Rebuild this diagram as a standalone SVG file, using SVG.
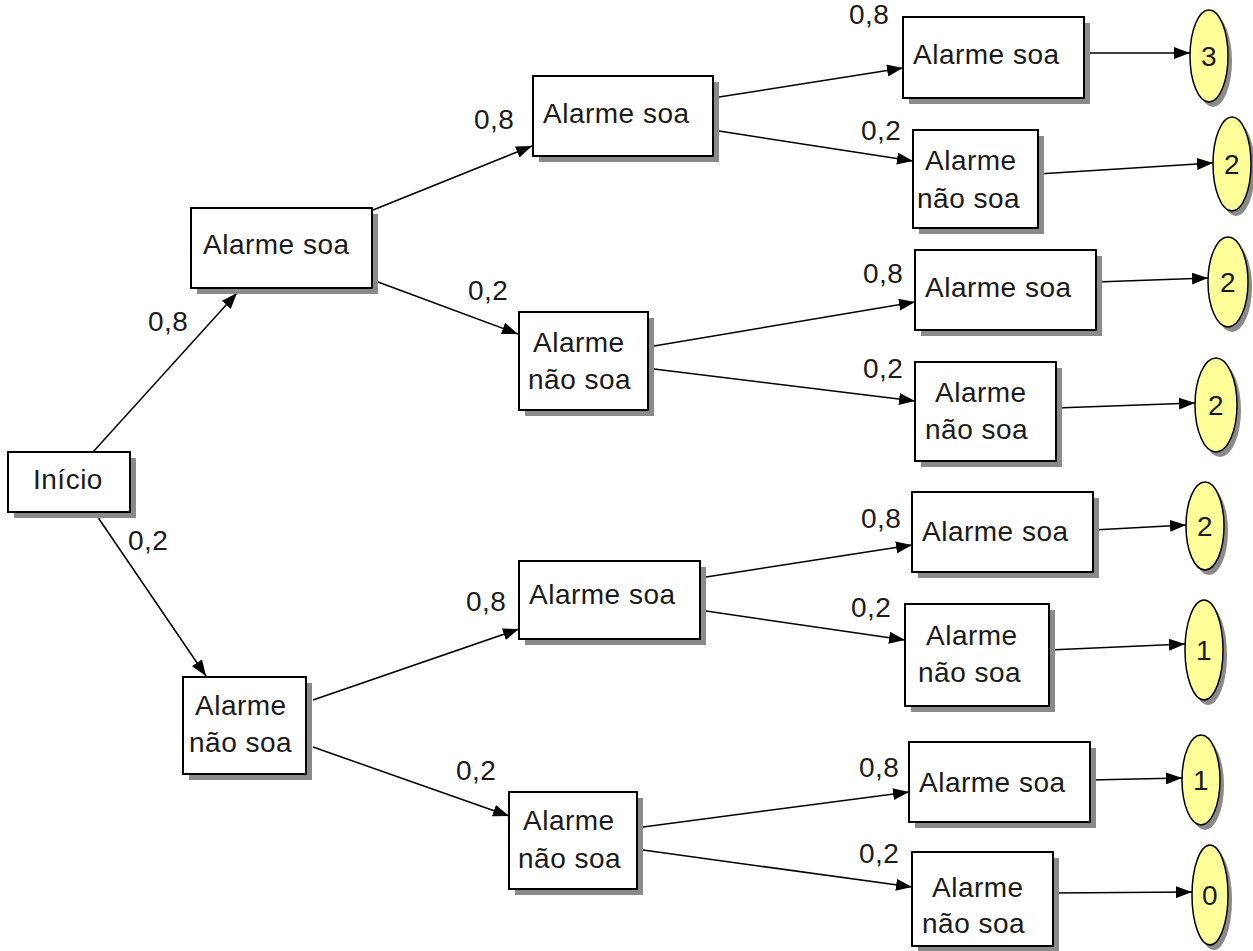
<svg xmlns="http://www.w3.org/2000/svg" width="1253" height="951" viewBox="0 0 1253 951">
<style>
.bx{fill:#fff;stroke:#000;stroke-width:2}
.sh{fill:#8a8a8a}
.el{fill:#ffff99;stroke:#000;stroke-width:1.5}
.t{font-family:"Liberation Sans",Arial,sans-serif;font-size:28px;fill:#1a1a1a;letter-spacing:0.5px}
.c{stroke:#000;stroke-width:1.5;fill:none;marker-end:url(#ah)}
</style>
<defs>
<marker id="ah" viewBox="0 0 16 12" refX="16" refY="6" markerWidth="16" markerHeight="12" markerUnits="userSpaceOnUse" orient="auto">
<path d="M0,0 L16,6 L0,12 Z" fill="#000"/>
</marker>
</defs>
<rect width="1253" height="951" fill="#fff"/>
<g id="connectors">
<line class="c" x1="93" y1="452" x2="237" y2="293"/>
<line class="c" x1="95" y1="513" x2="206" y2="676"/>
<line class="c" x1="373" y1="210" x2="532" y2="146"/>
<line class="c" x1="378" y1="282" x2="518" y2="334"/>
<line class="c" x1="313" y1="700" x2="519" y2="629"/>
<line class="c" x1="313" y1="747" x2="509" y2="816"/>
<line class="c" x1="719" y1="97" x2="903" y2="68"/>
<line class="c" x1="719" y1="131" x2="913" y2="161"/>
<line class="c" x1="654" y1="346" x2="915" y2="302"/>
<line class="c" x1="654" y1="369" x2="915" y2="401"/>
<line class="c" x1="706" y1="577" x2="912" y2="545"/>
<line class="c" x1="706" y1="611" x2="905" y2="640"/>
<line class="c" x1="643" y1="827" x2="909" y2="792"/>
<line class="c" x1="643" y1="850" x2="912" y2="887"/>
<line class="c" x1="1084" y1="53" x2="1190" y2="53"/>
<line class="c" x1="1038" y1="174" x2="1213" y2="163"/>
<line class="c" x1="1096" y1="282" x2="1208" y2="278"/>
<line class="c" x1="1056" y1="408" x2="1195" y2="403"/>
<line class="c" x1="1093" y1="530" x2="1186" y2="525"/>
<line class="c" x1="1049" y1="650" x2="1185" y2="644"/>
<line class="c" x1="1090" y1="780" x2="1182" y2="778"/>
<line class="c" x1="1053" y1="893" x2="1192" y2="892"/>
</g>
<g id="labels">
<text class="t" x="148" y="331">0,8</text>
<text class="t" x="128" y="550">0,2</text>
<text class="t" x="474" y="129">0,8</text>
<text class="t" x="468" y="300">0,2</text>
<text class="t" x="466" y="611">0,8</text>
<text class="t" x="456" y="780">0,2</text>
<text class="t" x="849" y="24">0,8</text>
<text class="t" x="861" y="140">0,2</text>
<text class="t" x="863" y="283">0,8</text>
<text class="t" x="863" y="378">0,2</text>
<text class="t" x="861" y="528">0,8</text>
<text class="t" x="851" y="617">0,2</text>
<text class="t" x="859" y="777">0,8</text>
<text class="t" x="859" y="863">0,2</text>
</g>
<g id="n-inicio"><rect class="sh" x="14" y="458" width="122" height="60"/><rect class="bx" x="8" y="452" width="122" height="60"/><text class="t" x="33" y="489">Início</text></g>
<g id="n-a1"><rect class="sh" x="197" y="214" width="181" height="80"/><rect class="bx" x="191" y="208" width="181" height="80"/><text class="t" x="203" y="254">Alarme soa</text></g>
<g id="n-b1"><rect class="sh" x="189" y="683" width="123" height="97"/><rect class="bx" x="183" y="677" width="123" height="97"/><text class="t" x="195" y="715">Alarme</text><text class="t" x="189" y="752">não soa</text></g>
<g id="n-a2"><rect class="sh" x="539" y="82" width="180" height="80"/><rect class="bx" x="533" y="76" width="180" height="80"/><text class="t" x="543" y="123">Alarme soa</text></g>
<g id="n-b2"><rect class="sh" x="525" y="318" width="129" height="98"/><rect class="bx" x="519" y="312" width="129" height="98"/><text class="t" x="533" y="352">Alarme</text><text class="t" x="528" y="389">não soa</text></g>
<g id="n-c2"><rect class="sh" x="525" y="567" width="181" height="78"/><rect class="bx" x="519" y="561" width="181" height="78"/><text class="t" x="529" y="604">Alarme soa</text></g>
<g id="n-d2"><rect class="sh" x="515" y="798" width="128" height="97"/><rect class="bx" x="509" y="792" width="128" height="97"/><text class="t" x="523" y="830">Alarme</text><text class="t" x="518" y="868">não soa</text></g>
<g id="n-r1"><rect class="sh" x="909" y="23" width="181" height="81"/><rect class="bx" x="903" y="17" width="181" height="81"/><text class="t" x="913" y="64">Alarme soa</text></g>
<g id="n-r2"><rect class="sh" x="919" y="136" width="125" height="98"/><rect class="bx" x="913" y="130" width="125" height="98"/><text class="t" x="925" y="170">Alarme</text><text class="t" x="917" y="208">não soa</text></g>
<g id="n-r3"><rect class="sh" x="921" y="256" width="181" height="80"/><rect class="bx" x="915" y="250" width="181" height="80"/><text class="t" x="925" y="297">Alarme soa</text></g>
<g id="n-r4"><rect class="sh" x="921" y="368" width="141" height="99"/><rect class="bx" x="915" y="362" width="141" height="99"/><text class="t" x="935" y="402">Alarme</text><text class="t" x="925" y="439">não soa</text></g>
<g id="n-r5"><rect class="sh" x="918" y="498" width="181" height="80"/><rect class="bx" x="912" y="492" width="181" height="80"/><text class="t" x="922" y="541">Alarme soa</text></g>
<g id="n-r6"><rect class="sh" x="911" y="610" width="144" height="102"/><rect class="bx" x="905" y="604" width="144" height="102"/><text class="t" x="926" y="645">Alarme</text><text class="t" x="918" y="682">não soa</text></g>
<g id="n-r7"><rect class="sh" x="915" y="748" width="181" height="80"/><rect class="bx" x="909" y="742" width="181" height="80"/><text class="t" x="919" y="792">Alarme soa</text></g>
<g id="n-r8"><rect class="sh" x="918" y="858" width="141" height="94"/><rect class="bx" x="912" y="852" width="141" height="94"/><text class="t" x="932" y="897">Alarme</text><text class="t" x="922" y="933">não soa</text></g>
<g id="o1"><ellipse class="sh" cx="1213" cy="61" rx="19" ry="46"/><ellipse class="el" cx="1209" cy="56" rx="19" ry="46"/><text class="t" x="1209" y="66" text-anchor="middle">3</text></g>
<g id="o2"><ellipse class="sh" cx="1236" cy="169" rx="19" ry="47"/><ellipse class="el" cx="1232" cy="164" rx="19" ry="47"/><text class="t" x="1232" y="174" text-anchor="middle">2</text></g>
<g id="o3"><ellipse class="sh" cx="1232" cy="287" rx="20" ry="45"/><ellipse class="el" cx="1228" cy="282" rx="20" ry="45"/><text class="t" x="1228" y="292" text-anchor="middle">2</text></g>
<g id="o4"><ellipse class="sh" cx="1220" cy="410" rx="21" ry="47"/><ellipse class="el" cx="1216" cy="405" rx="21" ry="47"/><text class="t" x="1216" y="415" text-anchor="middle">2</text></g>
<g id="o5"><ellipse class="sh" cx="1209" cy="531" rx="19" ry="44"/><ellipse class="el" cx="1205" cy="526" rx="19" ry="44"/><text class="t" x="1205" y="536" text-anchor="middle">2</text></g>
<g id="o6"><ellipse class="sh" cx="1208" cy="655" rx="19" ry="50"/><ellipse class="el" cx="1204" cy="650" rx="19" ry="50"/><text class="t" x="1204" y="660" text-anchor="middle">1</text></g>
<g id="o7"><ellipse class="sh" cx="1205" cy="785" rx="19" ry="45"/><ellipse class="el" cx="1201" cy="780" rx="19" ry="45"/><text class="t" x="1201" y="790" text-anchor="middle">1</text></g>
<g id="o8"><ellipse class="sh" cx="1214" cy="900" rx="18" ry="50"/><ellipse class="el" cx="1210" cy="895" rx="18" ry="50"/><text class="t" x="1210" y="905" text-anchor="middle">0</text></g>
</svg>
